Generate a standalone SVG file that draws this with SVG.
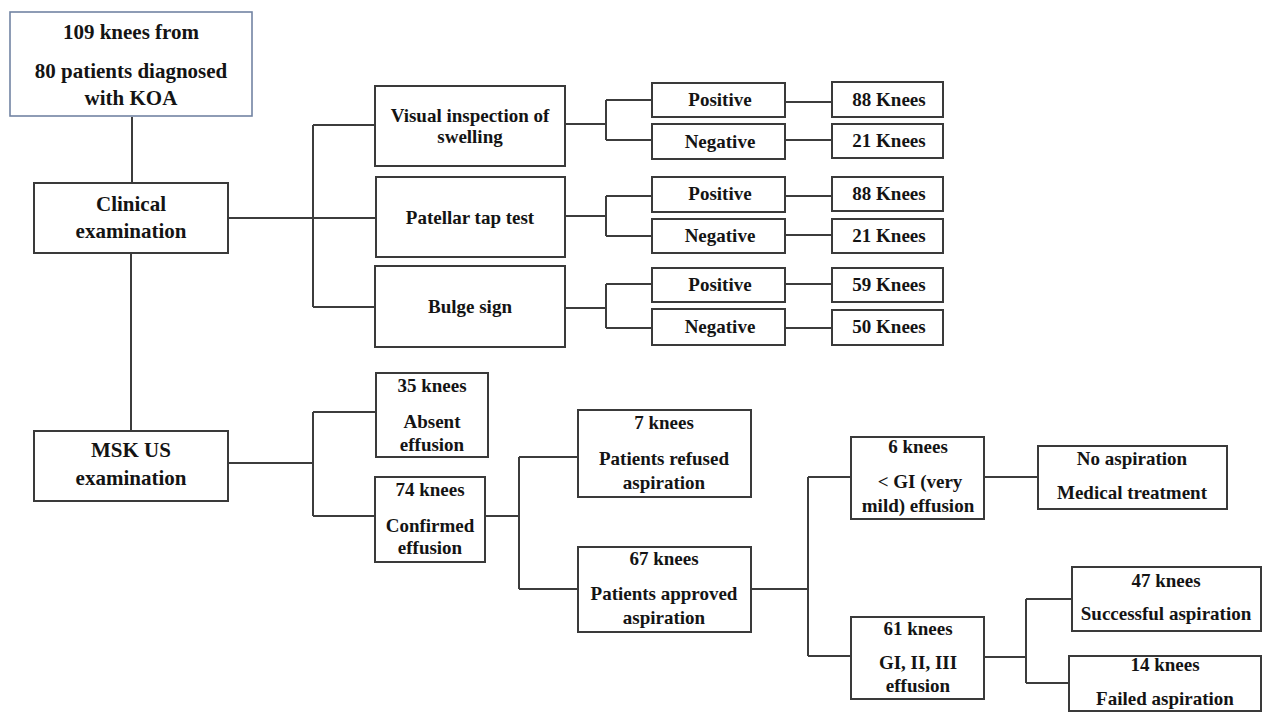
<svg xmlns="http://www.w3.org/2000/svg" width="1263" height="713" viewBox="0 0 1263 713">
<style>
.b{fill:#fff;stroke:#3a3a3a;stroke-width:2}
.top{fill:#fff;stroke:#7284a3;stroke-width:1.6}
.t{font-family:"Liberation Serif","Times New Roman",serif;font-weight:bold;font-size:19px;fill:#141414;text-anchor:middle}
.L{font-size:21px}
#connectors path{fill:none;stroke:#3c3c3c;stroke-width:2}
</style>
<rect width="1263" height="713" fill="#fff"/>
<g id="connectors">
<path d="M132 117V183M131 253V431"/>
<path d="M228 218H313M313 125V307M313 125H375M313 218H376M313 307H375"/>
<path d="M565 124H606M606 100V140M606 100H652M606 140H652"/>
<path d="M565 216H606M606 196V236M606 196H652M606 236H652"/>
<path d="M565 308H606M606 284V328M606 284H652M606 328H652"/>
<path d="M785 102H832M785 140H832M785 196H832M785 235H832M785 284H832M785 328H832"/>
<path d="M228 463H313M313 412V516M313 412H376M313 516H375"/>
<path d="M485 516H519M519 457V589M519 457H578M519 589H578"/>
<path d="M751 589H808M808 477V656M808 477H851M808 656H851"/>
<path d="M984 477H1038"/>
<path d="M984 657H1026M1026 599V683M1026 599H1072M1026 683H1069"/>
</g>
<g id="n_root"><rect class="top" x="10" y="12" width="242" height="104"/>
<text class="t L" x="131" y="39">109 knees from</text>
<text class="t L" x="131" y="78">80 patients diagnosed</text>
<text class="t L" x="131" y="105">with KOA</text></g>
<g id="n_clinical"><rect class="b" x="34" y="183" width="194" height="70"/>
<text class="t L" x="131" y="211">Clinical</text>
<text class="t L" x="131" y="238">examination</text></g>
<g id="n_visual"><rect class="b" x="375" y="86" width="190" height="80"/>
<text class="t" x="470" y="122">Visual inspection of</text>
<text class="t" x="470" y="143">swelling</text></g>
<g id="n_patellar"><rect class="b" x="376" y="177" width="189" height="80"/>
<text class="t" x="470" y="224">Patellar tap test</text></g>
<g id="n_bulge"><rect class="b" x="375" y="266" width="190" height="81"/>
<text class="t" x="470" y="313">Bulge sign</text></g>
<g id="n_pos1"><rect class="b" x="652" y="83" width="133" height="34"/><text class="t" x="720" y="106">Positive</text></g>
<g id="n_neg1"><rect class="b" x="652" y="124" width="133" height="35"/><text class="t" x="720" y="148">Negative</text></g>
<g id="n_k1"><rect class="b" x="832" y="82" width="111" height="35"/><text class="t" x="889" y="106">88 Knees</text></g>
<g id="n_k2"><rect class="b" x="832" y="124" width="111" height="34"/><text class="t" x="889" y="147">21 Knees</text></g>
<g id="n_pos2"><rect class="b" x="652" y="177" width="133" height="35"/><text class="t" x="720" y="200">Positive</text></g>
<g id="n_neg2"><rect class="b" x="652" y="219" width="133" height="34"/><text class="t" x="720" y="242">Negative</text></g>
<g id="n_k3"><rect class="b" x="832" y="177" width="111" height="34"/><text class="t" x="889" y="200">88 Knees</text></g>
<g id="n_k4"><rect class="b" x="832" y="219" width="111" height="34"/><text class="t" x="889" y="242">21 Knees</text></g>
<g id="n_pos3"><rect class="b" x="652" y="268" width="133" height="34"/><text class="t" x="720" y="291">Positive</text></g>
<g id="n_neg3"><rect class="b" x="652" y="309" width="133" height="36"/><text class="t" x="720" y="333">Negative</text></g>
<g id="n_k5"><rect class="b" x="832" y="268" width="111" height="34"/><text class="t" x="889" y="291">59 Knees</text></g>
<g id="n_k6"><rect class="b" x="832" y="310" width="111" height="35"/><text class="t" x="889" y="333">50 Knees</text></g>
<g id="n_msk"><rect class="b" x="34" y="431" width="194" height="70"/>
<text class="t L" x="131" y="457">MSK US</text>
<text class="t L" x="131" y="485">examination</text></g>
<g id="n_absent"><rect class="b" x="376" y="373" width="112" height="84"/>
<text class="t" x="432" y="392">35 knees</text>
<text class="t" x="432" y="428">Absent</text>
<text class="t" x="432" y="451">effusion</text></g>
<g id="n_confirmed"><rect class="b" x="375" y="477" width="110" height="85"/>
<text class="t" x="430" y="496">74 knees</text>
<text class="t" x="430" y="532">Confirmed</text>
<text class="t" x="430" y="554">effusion</text></g>
<g id="n_refused"><rect class="b" x="578" y="410" width="173" height="87"/>
<text class="t" x="664" y="429">7 knees</text>
<text class="t" x="664" y="465">Patients refused</text>
<text class="t" x="664" y="489">aspiration</text></g>
<g id="n_approved"><rect class="b" x="578" y="547" width="173" height="85"/>
<text class="t" x="664" y="565">67 knees</text>
<text class="t" x="664" y="600">Patients approved</text>
<text class="t" x="664" y="624">aspiration</text></g>
<g id="n_mild"><rect class="b" x="851" y="437" width="133" height="82"/>
<text class="t" x="918" y="453">6 knees</text>
<text class="t" x="920" y="488">&lt; GI (very</text>
<text class="t" x="918" y="512">mild) effusion</text></g>
<g id="n_noasp"><rect class="b" x="1038" y="446" width="189" height="63"/>
<text class="t" x="1132" y="465">No aspiration</text>
<text class="t" x="1132" y="499">Medical treatment</text></g>
<g id="n_g123"><rect class="b" x="851" y="617" width="133" height="82"/>
<text class="t" x="918" y="635">61 knees</text>
<text class="t" x="918" y="669">GI, II, III</text>
<text class="t" x="918" y="692">effusion</text></g>
<g id="n_success"><rect class="b" x="1072" y="567" width="189" height="64"/>
<text class="t" x="1166" y="587">47 knees</text>
<text class="t" x="1166" y="620">Successful aspiration</text></g>
<g id="n_failed"><rect class="b" x="1069" y="656" width="192" height="55"/>
<text class="t" x="1165" y="671">14 knees</text>
<text class="t" x="1165" y="705">Failed aspiration</text></g>
</svg>
